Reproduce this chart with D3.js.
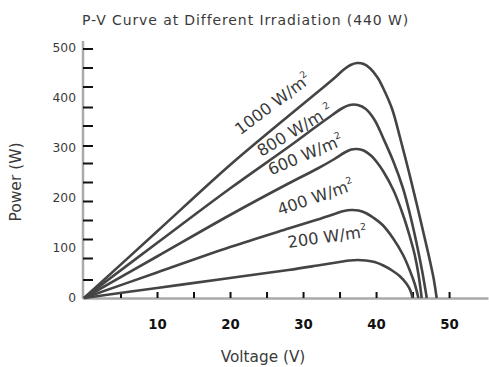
<!DOCTYPE html>
<html>
<head>
<meta charset="utf-8">
<script src="https://cdn.jsdelivr.net/npm/d3@7/dist/d3.min.js"></script>
<style>
  body { margin: 0; background: #fff; }
  text { font-family: "DejaVu Sans", sans-serif; }
</style>
</head>
<body>
<svg id="chart" width="489" height="367"></svg>
<script>
// P-V curves, [voltage (V), power (W)] per irradiance level
const curve1000 = [[0,0],[10,133],[20,266],[28,364],[32,412],[34.3,440],[35.5,456],[36.5,466],[37.4,470],[38.3,468],[39.2,459],[40.2,441],[41,419],[42.2,378],[43.3,320],[44.5,252],[45.6,186],[46.5,130],[47.4,73],[47.9,38],[48.3,0]];
const curve800  = [[0,0],[10,110],[20,219],[28,302],[32,345],[34,366],[35.3,379],[36.4,386],[37.5,386],[38.6,378],[39.8,356],[41,319],[42.4,272],[43.7,219],[44.6,170],[45.5,113],[46.3,55],[46.95,0]];
const curve600  = [[0,0],[10,83],[20,166],[28,229],[32,259],[34.3,278],[35.7,291],[36.6,297],[37.4,298],[38.3,295],[39.3,285],[40.2,270],[41,253],[42.4,215],[43.7,166],[44.6,124],[45.3,86],[45.8,48],[46.25,0]];
const curve400  = [[0,0],[10,51],[20,102],[28,139],[32,157],[34.5,169],[35.6,174],[36.6,176],[37.6,175],[38.6,170],[39.7,160],[40.9,146],[42.3,120],[43.7,86],[44.6,56],[45.3,28],[45.8,0]];
const curve200  = [[0,0],[10,20],[20,40],[28,56],[32,65],[35,72],[36.4,75],[37.5,76],[38.6,75],[39.8,72],[41,65],[42.2,55],[43.3,43],[44.2,28],[44.7,15],[45,0]];

const irradianceLabels = ["1000 W/m", "800 W/m", "600 W/m", "400 W/m", "200 W/m"];
const seriesCurves = [curve1000, curve800, curve600, curve400, curve200];

const xTickMarks = [5,10,15,20,25,30,35,40,45,50];
const xTickLabels = [10,20,30,40,50];
const yTickMarks = [37,80,118,156,194,232,270,305,345,382,423,461,499];
const yTickLabels = [0,100,200,300,400,500];

const svg = d3.select("#chart");

const x = d3.scaleLinear().domain([0, 55.4]).range([84, 488.5]);
const y = d3.scaleLinear().domain([0, 500]).range([298, 48]);

// title
svg.append("text")
  .attr("x", 82).attr("y", 25)
  .attr("font-size", 14).attr("letter-spacing", 0.9).attr("fill", "#3a3a3a")
  .text("P-V Curve at Different Irradiation (440 W)");

// axis lines
svg.append("line")
  .attr("x1", x(0) - 1).attr("x2", x(0) - 1)
  .attr("y1", 41).attr("y2", y(0) + 1)
  .attr("stroke", "#aaa").attr("stroke-width", 2.5);
svg.append("line")
  .attr("x1", x(0) - 1).attr("x2", x.range()[1])
  .attr("y1", y(0) + 0.5).attr("y2", y(0) + 0.5)
  .attr("stroke", "#aaa").attr("stroke-width", 2.5);

// x tick marks (inside, upward) and bold labels below
const xMarks = d3.axisTop(x).tickValues(xTickMarks).tickSize(6).tickFormat("");
svg.append("g").attr("transform", `translate(0,${y(0)})`).call(xMarks)
  .call(g => g.select(".domain").remove())
  .call(g => g.selectAll(".tick line").attr("stroke", "#111").attr("stroke-width", 2));

const xLabels = d3.axisBottom(x).tickValues(xTickLabels).tickSize(0).tickPadding(22);
svg.append("g").attr("transform", `translate(0,${y(0)})`).call(xLabels)
  .call(g => g.select(".domain").remove())
  .call(g => g.selectAll(".tick text")
    .attr("font-family", "DejaVu Sans").attr("font-weight", "bold")
    .attr("font-size", 13.3).attr("fill", "#111"));

// y tick marks (inside, rightward) and labels
const yMarks = d3.axisRight(y).tickValues(yTickMarks).tickSize(10).tickFormat("");
svg.append("g").attr("transform", `translate(${x(0) - 1},0)`).call(yMarks)
  .call(g => g.select(".domain").remove())
  .call(g => g.selectAll(".tick line").attr("stroke", "#111").attr("stroke-width", 2));

const yLabels = d3.axisLeft(y).tickValues(yTickLabels).tickSize(0).tickPadding(7);
svg.append("g").attr("transform", `translate(${x(0) - 1},0)`).call(yLabels)
  .call(g => g.select(".domain").remove())
  .call(g => g.selectAll(".tick text")
    .attr("font-family", "DejaVu Sans")
    .attr("font-size", 12.3).attr("fill", "#3a3a3a"));

// axis titles
svg.append("text")
  .attr("transform", "translate(21,182) rotate(-90)")
  .attr("text-anchor", "middle")
  .attr("font-size", 15.5).attr("fill", "#3a3a3a")
  .text("Power (W)");
svg.append("text")
  .attr("x", 263).attr("y", 362)
  .attr("text-anchor", "middle")
  .attr("font-size", 15.3).attr("fill", "#3a3a3a")
  .text("Voltage (V)");

// curves
const line = d3.line()
  .x(d => x(d[0]))
  .y(d => y(d[1]))
  .curve(d3.curveCatmullRom.alpha(0.5));

svg.append("g").selectAll("path")
  .data(seriesCurves)
  .join("path")
  .attr("d", line)
  .attr("fill", "none")
  .attr("stroke", "#444")
  .attr("stroke-width", 2.6)
  .attr("stroke-linejoin", "round");

// rotated irradiance labels placed along each curve, anchor in data units
const labelLayout = [
  { v: 21.4, p: 325, angle: -37, gap: 0 },
  { v: 24.3, p: 282, angle: -31, gap: 5 },
  { v: 25.6, p: 245, angle: -23, gap: 0 },
  { v: 26.8, p: 165, angle: -19, gap: 0 },
  { v: 28.0, p: 100, angle: -8,  gap: 0 }
];

const labels = svg.append("g").selectAll("text")
  .data(irradianceLabels)
  .join("text")
  .attr("transform", (d, i) => `translate(${x(labelLayout[i].v)},${y(labelLayout[i].p)}) rotate(${labelLayout[i].angle})`)
  .attr("font-size", 16.3)
  .attr("fill", "#3a3a3a")
  .text(d => d);

labels.append("tspan")
  .attr("dx", (d, i) => labelLayout[i].gap)
  .attr("dy", -7.5)
  .attr("font-size", 9.5)
  .text("2");
</script>
</body>
</html>
